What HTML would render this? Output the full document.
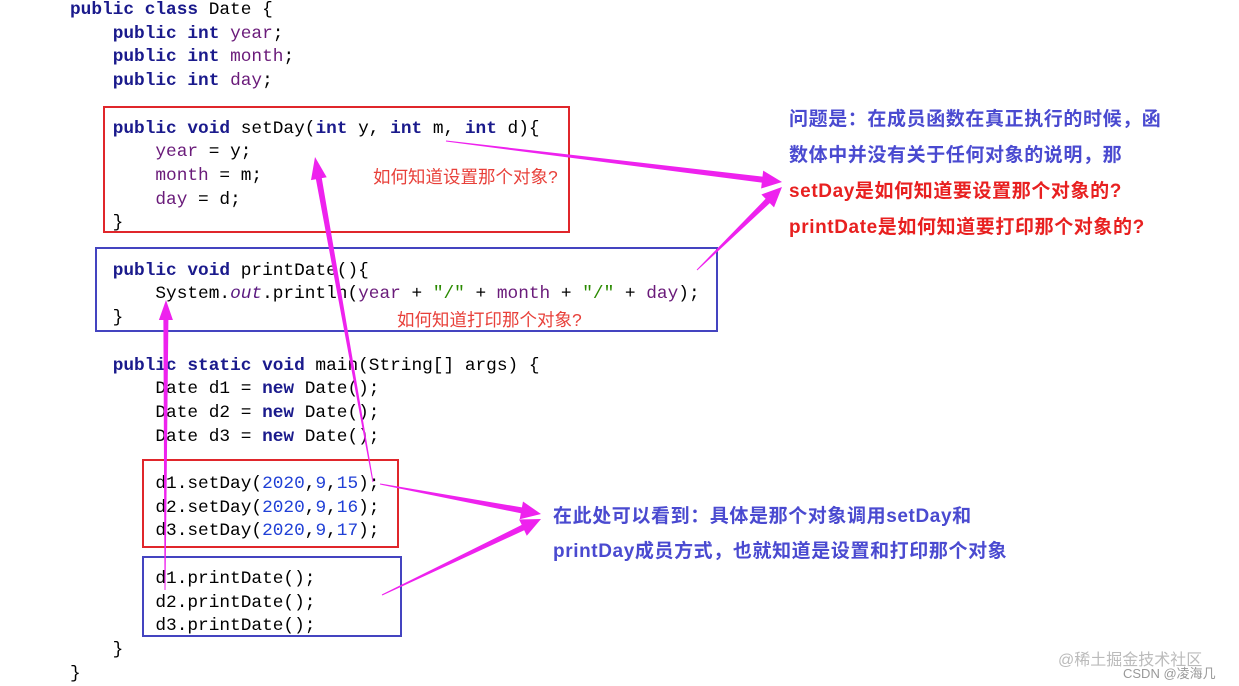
<!DOCTYPE html>
<html><head><meta charset="utf-8">
<style>
body{margin:0;width:1239px;height:686px;background:#fff;position:relative;overflow:hidden}
.code{position:absolute;left:70px;top:-1px;font-family:"Liberation Mono",monospace;font-size:17.8px;line-height:23.7px;white-space:pre;color:#000;margin:0}
.k{color:#1a1a8c;font-weight:bold}
.f{color:#6a1b7a}
.n{color:#1f3fd6}
.s{color:#2a8a00}
.i{color:#5b1a80;font-style:italic}
.box{position:absolute;border:2.5px solid}
.r{border-color:#e0262b}.b{border-color:#4444c0}
.t{position:absolute;font-family:"Liberation Sans","Noto Sans CJK SC",sans-serif;white-space:nowrap}
</style></head><body>
<pre class="code"><span class="k">public class</span> Date {
    <span class="k">public int</span> <span class="f">year</span>;
    <span class="k">public int</span> <span class="f">month</span>;
    <span class="k">public int</span> <span class="f">day</span>;

    <span class="k">public void</span> setDay(<span class="k">int</span> y, <span class="k">int</span> m, <span class="k">int</span> d){
        <span class="f">year</span> = y;
        <span class="f">month</span> = m;
        <span class="f">day</span> = d;
    }

    <span class="k">public void</span> printDate(){
        System.<span class="i">out</span>.println(<span class="f">year</span> + <span class="s">"/"</span> + <span class="f">month</span> + <span class="s">"/"</span> + <span class="f">day</span>);
    }

    <span class="k">public static void</span> main(String[] args) {
        Date d1 = <span class="k">new</span> Date();
        Date d2 = <span class="k">new</span> Date();
        Date d3 = <span class="k">new</span> Date();

        d1.setDay(<span class="n">2020</span>,<span class="n">9</span>,<span class="n">15</span>);
        d2.setDay(<span class="n">2020</span>,<span class="n">9</span>,<span class="n">16</span>);
        d3.setDay(<span class="n">2020</span>,<span class="n">9</span>,<span class="n">17</span>);

        d1.printDate();
        d2.printDate();
        d3.printDate();
    }
}</pre>
<div class="box r" style="left:103px;top:106px;width:463px;height:123px"></div>
<div class="box b" style="left:95px;top:247px;width:619px;height:81px"></div>
<div class="box r" style="left:142px;top:459px;width:253px;height:85px"></div>
<div class="box b" style="left:142px;top:556px;width:256px;height:77px"></div>
<div class="t" style="left:373px;top:164px;font-size:17.5px;color:#e8403a">如何知道设置那个对象?</div>
<div class="t" style="left:397px;top:307px;font-size:17.5px;color:#e8403a">如何知道打印那个对象?</div>
<div class="t" style="left:789px;top:102px;font-size:19px;letter-spacing:0.6px;font-weight:bold;color:#4a4ad0;line-height:36px">问题是：在成员函数在真正执行的时候，函<br>数体中并没有关于任何对象的说明，那<br><span style="color:#e82020">setDay是如何知道要设置那个对象的?<br>printDate是如何知道要打印那个对象的?</span></div>
<div class="t" style="left:553px;top:499px;font-size:19px;letter-spacing:0.6px;font-weight:bold;color:#4a4ad0;line-height:35px">在此处可以看到：具体是那个对象调用setDay和<br>printDay成员方式，也就知道是设置和打印那个对象</div>
<div class="t" style="left:1058px;top:646px;font-size:16px;color:#bbb">@稀土掘金技术社区</div>
<div class="t" style="left:1123px;top:663px;font-size:13px;color:#999">CSDN @凌海几</div>
<svg id="sv" width="1239" height="686" style="position:absolute;left:0;top:0"></svg>
<script>
function arr(x1,y1,x2,y2,w0,w1,hl,hw){
 var dx=x2-x1,dy=y2-y1,L=Math.hypot(dx,dy),ux=dx/L,uy=dy/L,px=-uy,py=ux;
 var bx=x2-ux*hl,by=y2-uy*hl;
 var p=[[x1+px*w0/2,y1+py*w0/2],[bx+px*w1/2,by+py*w1/2],[bx+px*hw/2,by+py*hw/2],[x2,y2],[bx-px*hw/2,by-py*hw/2],[bx-px*w1/2,by-py*w1/2],[x1-px*w0/2,y1-py*w0/2]];
 return '<polygon fill="#ee22ee" points="'+p.map(function(q){return q[0].toFixed(1)+','+q[1].toFixed(1)}).join(' ')+'"/>';
}
document.getElementById('sv').innerHTML=
 arr(446,141,782,182,1,6,20,18)+
 arr(697,270,782,187,1,6,20,18)+
 arr(373,482,315,157,1,6,22,16)+
 arr(165,590,166,300,1,5,20,14)+
 arr(380,484,541,514,1,6,20,18)+
 arr(382,595,541,519,1,6,20,18);
</script>
</body></html>
